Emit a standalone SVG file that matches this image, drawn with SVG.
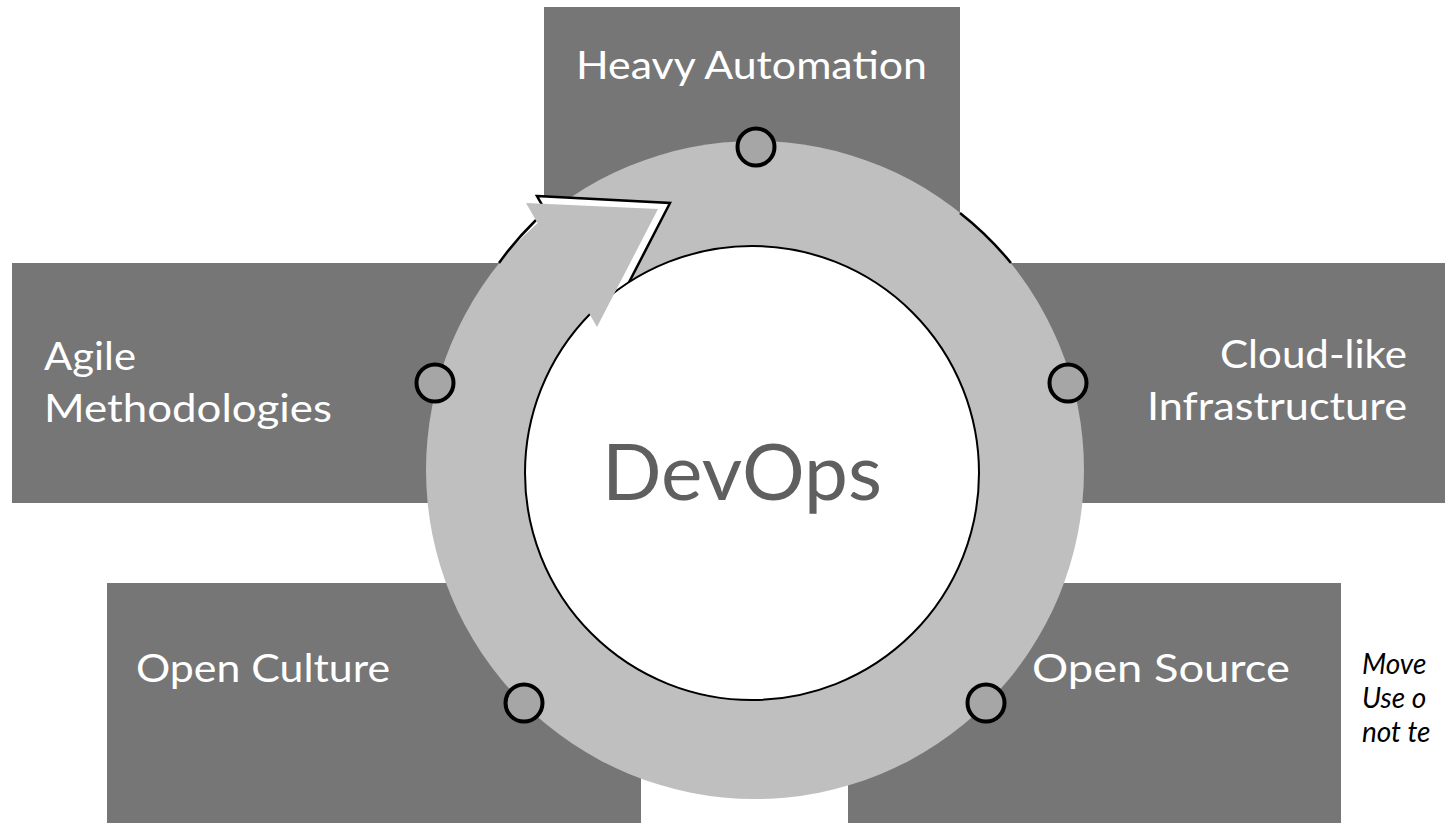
<svg xmlns="http://www.w3.org/2000/svg" width="1448" height="827" viewBox="0 0 1448 827">
  <style>
    .box { fill: #767676; }
    .lbl { font-family: Lato, "Open Sans", sans-serif; font-size: 39px; fill: #ffffff; }
    .dot { fill: #a6a6a6; stroke: #000000; stroke-width: 4; }
    .edge { fill: none; stroke: #000000; stroke-width: 2.5; }
    .note { font-family: Lato, "Open Sans", sans-serif; font-size: 28px; font-style: italic; fill: #000000; }
  </style>
  <rect width="1448" height="827" fill="#ffffff"/>

  <!-- outer boxes -->
  <g id="heavy-automation-box"><rect class="box" x="544" y="7" width="416" height="230"/></g>
  <g id="agile-box"><rect class="box" x="12" y="263" width="588" height="240"/></g>
  <g id="cloud-box"><rect class="box" x="900" y="263" width="545" height="240"/></g>
  <g id="open-culture-box"><rect class="box" x="107" y="583" width="534" height="240"/></g>
  <g id="open-source-box"><rect class="box" x="848" y="583" width="493" height="240"/></g>

  <!-- cycle ring with arrowhead -->
  <g id="cycle">
    <circle cx="755" cy="470" r="329" fill="#bfbfbf"/>
    <polygon points="537,196 670,203 609,321" fill="#ffffff" stroke="#000000" stroke-width="2.5" stroke-linejoin="miter"/>
    <path class="edge" d="M 499,263 A 329 329 0 0 1 536,220"/>
    <path class="edge" d="M 960,213 A 329 329 0 0 1 1011,263"/>
    <circle id="devops" cx="752" cy="473" r="227" fill="#ffffff" stroke="#000000" stroke-width="2"/>
    <polygon points="526,203 658,209 597,327" fill="#bfbfbf"/>
  </g>

  <!-- markers on the ring -->
  <g id="connectors">
    <circle class="dot" cx="756" cy="147" r="18.5"/>
    <circle class="dot" cx="1068" cy="383" r="18.5"/>
    <circle class="dot" cx="435" cy="383" r="18.5"/>
    <circle class="dot" cx="524" cy="703" r="18.5"/>
    <circle class="dot" cx="986" cy="703" r="18.5"/>
  </g>

  <!-- labels -->
  <g id="labels">
    <text class="lbl" x="576" y="79" textLength="351" lengthAdjust="spacingAndGlyphs">Heavy Automation</text>
    <text class="lbl" x="44" y="370" textLength="92" lengthAdjust="spacingAndGlyphs">Agile</text>
    <text class="lbl" x="44" y="422" textLength="288" lengthAdjust="spacingAndGlyphs">Methodologies</text>
    <text class="lbl" x="1220" y="368" textLength="187" lengthAdjust="spacingAndGlyphs">Cloud-like</text>
    <text class="lbl" x="1147" y="420" textLength="260" lengthAdjust="spacingAndGlyphs">Infrastructure</text>
    <text class="lbl" x="136" y="682" textLength="254" lengthAdjust="spacingAndGlyphs">Open Culture</text>
    <text class="lbl" x="1032" y="682" textLength="258" lengthAdjust="spacingAndGlyphs">Open Source</text>
    <text x="602" y="500" textLength="280" lengthAdjust="spacingAndGlyphs" font-family="Lato, 'Open Sans', sans-serif" font-size="77" fill="#5f5f5f">DevOps</text>
    <text class="note" x="1362" y="674">Move</text>
    <text class="note" x="1362" y="708">Use o</text>
    <text class="note" x="1362" y="742">not te</text>
  </g>
</svg>
